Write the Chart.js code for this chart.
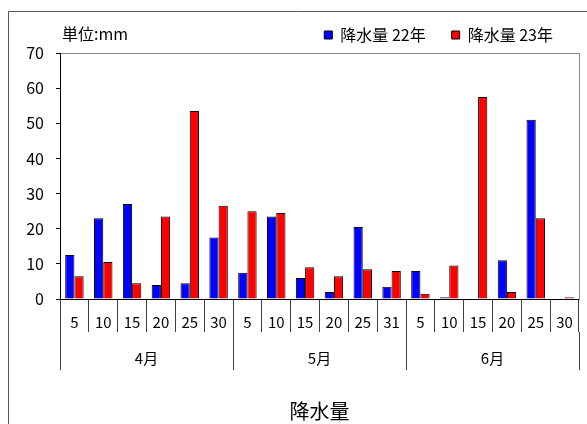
<!DOCTYPE html>
<html>
<head>
<meta charset="utf-8">
<script src="https://cdn.jsdelivr.net/npm/chart.js@4/dist/chart.umd.min.js"></script>
<style>
  body { margin: 0; background: #fff; }
  #wrap { width: 587px; height: 424px; }
</style>
</head>
<body>
<div id="wrap"><canvas id="rainChart" width="587" height="424"></canvas></div>
<script>
// data
const days = ["5", "10", "15", "20", "25", "30", "5", "10", "15", "20", "25", "31", "5", "10", "15", "20", "25", "30"];
const months = ["4月", "5月", "6月"];
const monthSizes = [6, 6, 6];
const rain22 = [12.5, 23, 27, 4, 4.5, 17.5, 7.5, 23.5, 6, 2, 20.5, 3.5, 8, 0.5, 0, 11, 51, 0];
const rain23 = [6.5, 10.5, 4.5, 23.5, 53.5, 26.5, 25, 24.5, 9, 6.5, 8.5, 8, 1.5, 9.5, 57.5, 2, 23, 0.5];
const seriesNames = ["降水量 22年", "降水量 23年"];
const yTicks = [0, 10, 20, 30, 40, 50, 60, 70];

// month group boundaries and centres in category units
const bounds = [-0.5];
const centres = [];
let start = 0;
monthSizes.forEach(n => {
  centres.push(start + (n - 1) / 2);
  start += n;
  bounds.push(start - 0.5);
});

Chart.defaults.font.family = "'Noto Sans CJK JP', 'Noto Sans', sans-serif";
Chart.defaults.color = "#000";

const framePlugin = {
  id: "frame",
  beforeDraw(chart) {
    const c = chart.ctx;
    c.save();
    c.strokeStyle = "#555";
    c.lineWidth = 1;
    c.beginPath();
    c.moveTo(8.5, chart.height);
    c.lineTo(8.5, 11.5);
    c.lineTo(chart.width, 11.5);
    c.stroke();
    c.restore();
  },
  afterDraw(chart) {
    const c = chart.ctx;
    c.save();
    c.fillStyle = "#000";
    c.font = "16px 'Noto Sans CJK JP'";
    c.textBaseline = "middle";
    c.fillText("単位:mm", chart.chartArea.left + 2, 34);
    c.restore();
  }
};

const ctx = document.getElementById("rainChart").getContext("2d");
new Chart(ctx, {
  type: "bar",
  data: {
    labels: days,
    datasets: [
      {
        label: seriesNames[0],
        data: rain22,
        backgroundColor: "#0000ff",
        borderColor: "#000",
        borderWidth: 1,
      },
      {
        label: seriesNames[1],
        data: rain23,
        backgroundColor: "#ff0000",
        borderColor: "#000",
        borderWidth: 1,
      },
    ],
  },
  options: {
    responsive: false,
    animation: false,
    categoryPercentage: 0.64,
    barPercentage: 1.0,
    layout: { padding: { top: 1, right: 8, bottom: 1, left: 0 } },
    plugins: {
      legend: {
        position: "top",
        align: "end",
        labels: {
          boxWidth: 8,
          boxHeight: 8,
          padding: 26,
          font: { size: 16 },
          color: "#000",
        },
      },
      tooltip: { enabled: false },
    },
    scales: {
      x: {
        type: "category",
        position: "bottom",
        weight: 0,
        afterFit: (s) => { s.height = 33; },
        border: { color: "#000", width: 1 },
        grid: {
          offset: true,
          drawOnChartArea: false,
          tickLength: 33,
          color: "#404040",
        },
        ticks: {
          autoSkip: false,
          maxRotation: 0,
          padding: -19,
          font: { size: 15 },
          color: "#000",
        },
      },
      m: {
        type: "linear",
        position: "bottom",
        weight: 1,
        offset: false,
        min: bounds[0],
        max: bounds[bounds.length - 1],
        afterFit: (s) => { s.height = 91; },
        afterBuildTicks: (s) => {
          s.ticks = bounds.concat(centres).sort((a, b) => a - b).map(v => ({ value: v }));
        },
        border: { display: false },
        grid: {
          offset: false,
          drawOnChartArea: false,
          tickLength: 38,
          tickColor: (c) => (c.tick && centres.includes(c.tick.value)) ? "rgba(0,0,0,0)" : "#404040",
        },
        ticks: {
          autoSkip: false,
          maxRotation: 0,
          padding: -21,
          font: { size: 15 },
          color: "#000",
          callback: (v) => {
            const i = centres.indexOf(v);
            return i >= 0 ? months[i] : "";
          },
        },
        title: {
          display: true,
          text: "降水量",
          font: { size: 20 },
          color: "#000",
          padding: 0,
        },
      },
      y: {
        min: yTicks[0],
        max: yTicks[yTicks.length - 1],
        afterFit: (s) => { s.width = 60; },
        afterBuildTicks: (s) => {
          s.ticks = yTicks.map(v => ({ value: v }));
        },
        border: { color: "#000", width: 1 },
        grid: {
          color: (c) => (c.tick && c.tick.value === yTicks[yTicks.length - 1]) ? "#888" : "rgba(0,0,0,0)",
          tickColor: "#000",
          tickLength: 4,
        },
        ticks: {
          padding: 12,
          font: { size: 16 },
          color: "#000",
        },
      },
      y2: {
        position: "right",
        afterFit: (s) => { s.width = 0; },
        border: { color: "#888", width: 1 },
        grid: { display: false },
        ticks: { display: false },
      },
    },
  },
  plugins: [framePlugin],
});
</script>
</body>
</html>
